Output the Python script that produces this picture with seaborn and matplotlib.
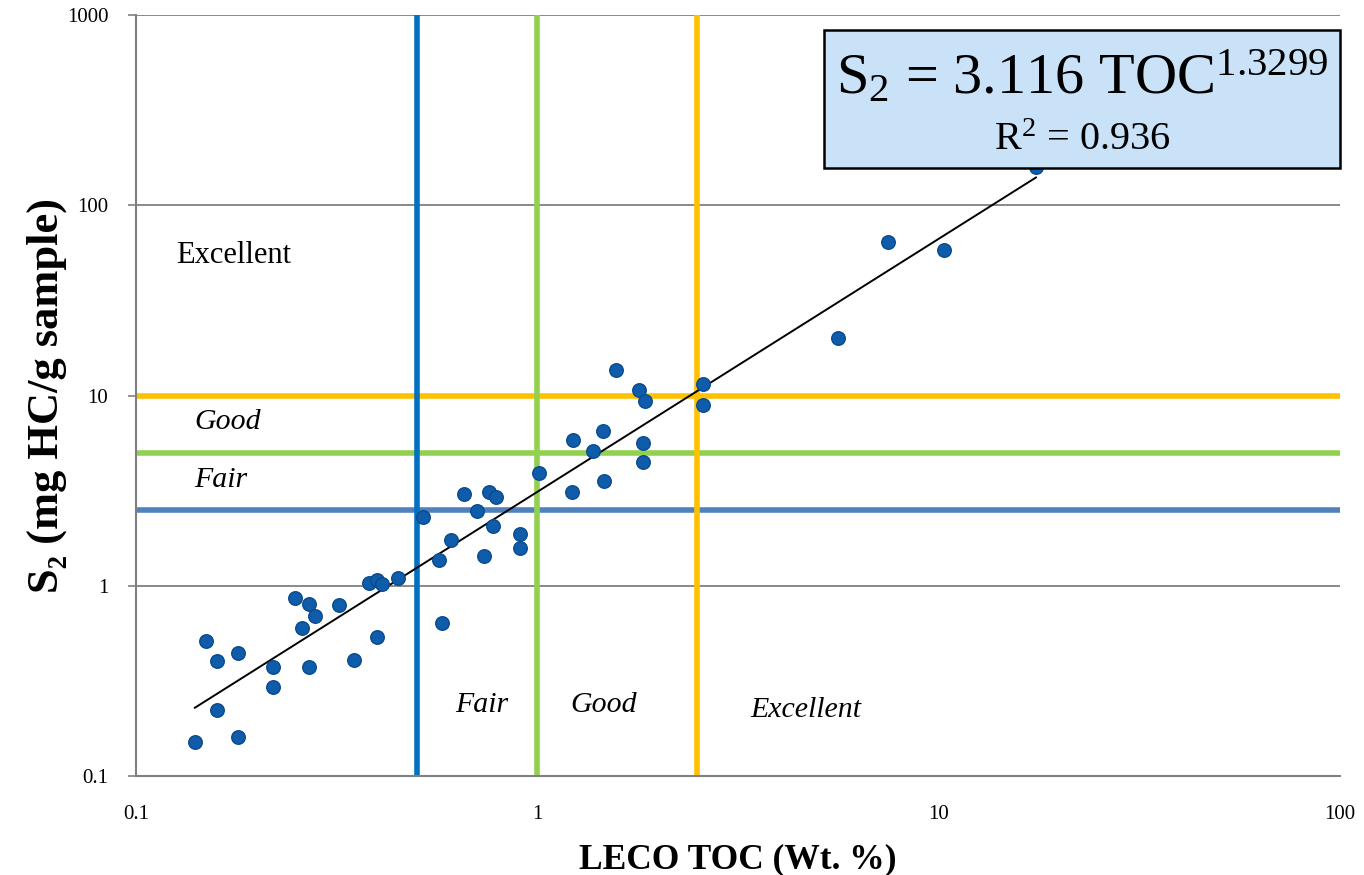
import numpy as np
import pandas as pd
import matplotlib
matplotlib.use("Agg")
import matplotlib.pyplot as plt
import seaborn as sns

# Sample measurements: LECO TOC (wt. %) and Rock-Eval S2 (mg HC/g sample)
toc = [0.140, 0.149, 0.159, 0.159, 0.180, 0.180, 0.219, 0.219, 0.249, 0.259,
       0.270, 0.270, 0.279, 0.321, 0.349, 0.381, 0.399, 0.399, 0.410, 0.450,
       0.519, 0.569, 0.579, 0.610, 0.657, 0.708, 0.736, 0.758, 0.776, 0.789,
       0.906, 0.906, 1.01, 1.22, 1.23, 1.38, 1.46, 1.47, 1.57, 1.79,
       1.83, 1.83, 1.85, 2.59, 2.59, 5.62, 7.48, 10.3, 17.5]
s2 = [0.151, 0.513, 0.402, 0.222, 0.443, 0.160, 0.374, 0.294, 0.863, 0.600,
      0.802, 0.374, 0.694, 0.792, 0.407, 1.03, 1.07, 0.538, 1.02, 1.10,
      2.30, 1.37, 0.637, 1.74, 3.04, 2.47, 1.43, 3.11, 2.06, 2.93,
      1.87, 1.58, 3.91, 3.11, 5.83, 5.11, 6.51, 3.55, 13.6, 10.7,
      5.63, 4.47, 9.35, 11.5, 8.91, 20.0, 64.1, 58.2, 159.0]

# Power-law fit S2 = a * TOC^b
fit_a = 3.116
fit_b = 1.3299
fit_r2 = 0.936

# Source-rock quality limits
toc_limits = [0.5, 1.0, 2.5]
s2_limits = [2.5, 5.0, 10.0]
toc_limit_colors = ["#0070C0", "#92D050", "#FFC000"]
s2_limit_colors = ["#4F81BD", "#92D050", "#FFC000"]

tick_values = [0.1, 1, 10, 100, 1000]
tick_labels = ["0.1", "1", "10", "100", "1000"]

df = pd.DataFrame({"TOC": toc, "S2": s2})
fit_x = np.array([min(toc), max(toc)])
fit_df = pd.DataFrame({"TOC": fit_x, "S2": fit_a * fit_x ** fit_b})

sns.set_theme(style="white")
serif = ["Liberation Serif", "DejaVu Serif"]
plt.rcParams["font.family"] = serif
plt.rcParams["text.color"] = "black"
plt.rcParams["axes.labelcolor"] = "black"
plt.rcParams["mathtext.fontset"] = "custom"
plt.rcParams["mathtext.rm"] = "Liberation Serif"
plt.rcParams["mathtext.it"] = "Liberation Serif:italic"
plt.rcParams["mathtext.bf"] = "Liberation Serif:bold"

fig = plt.figure(figsize=(13.64, 8.75), dpi=100)
ax = fig.add_axes([136 / 1364, 1 - 776 / 875, (1340 - 136) / 1364, (776 - 15) / 875])
ax.set_xscale("log")
ax.set_yscale("log")
ax.set_xlim(0.1, 100)
ax.set_ylim(0.1, 1000)

# Horizontal decade gridlines
for v in tick_values:
    ax.axhline(v, color="#808080", lw=1.3, zorder=1)

for v, c in zip(s2_limits, s2_limit_colors):
    ax.axhline(v, color=c, lw=4, zorder=2)
for v, c in zip(toc_limits, toc_limit_colors):
    ax.axvline(v, color=c, lw=4, zorder=2)

sns.lineplot(data=fit_df, x="TOC", y="S2", ax=ax, color="black", lw=1.4, zorder=3)
sns.scatterplot(data=df, x="TOC", y="S2", ax=ax, s=95, color="#0F5DAA",
                edgecolor="#0A4A8C", linewidth=1.0, zorder=4)

ax.set_xticks(tick_values[:4])
ax.set_xticklabels(tick_labels[:4])
ax.set_yticks(tick_values)
ax.set_yticklabels(tick_labels)
ax.minorticks_off()
ax.tick_params(axis="x", length=0, pad=21, labelsize=15, labelcolor="black")
ax.tick_params(axis="y", length=6, width=1.2, color="#808080", pad=14, labelsize=15,
               left=True, labelcolor="black")

for side in ["top", "right"]:
    ax.spines[side].set_visible(False)
for side in ["left", "bottom"]:
    ax.spines[side].set_color("#808080")
    ax.spines[side].set_linewidth(1.5)

ax.set_xlabel("LECO TOC (Wt. %)", fontsize=25.5, fontweight="bold", labelpad=14)
ax.set_ylabel("S₂ (mg HC/g sample)", fontsize=32, fontweight="bold", labelpad=0)

# Zone annotations
ax.text(0.126, 54.7, "Excellent", fontsize=22, ha="left", va="center")
ax.text(0.140, 7.26, "Good", fontsize=21.5, style="italic", ha="left", va="center")
ax.text(0.140, 3.59, "Fair", fontsize=21.5, style="italic", ha="left", va="center")
ax.text(0.728, 0.236, "Fair", fontsize=21.5, style="italic", ha="center", va="center")
ax.text(1.46, 0.236, "Good", fontsize=21.5, style="italic", ha="center", va="center")
ax.text(4.67, 0.222, "Excellent", fontsize=21.5, style="italic", ha="center", va="center")

# Equation box
box_x0, box_x1 = 824 / 1364, 1340 / 1364
box_y0, box_y1 = 1 - 168 / 875, 1 - 30 / 875
box = plt.Rectangle((box_x0, box_y0), box_x1 - box_x0, box_y1 - box_y0,
                    transform=fig.transFigure, facecolor="#C9E2F8",
                    edgecolor="black", lw=1.8, zorder=10)
fig.patches.append(box)
fig.text((box_x0 + box_x1) / 2, 1 - 78 / 875,
         r"S$_2$ = %.3f TOC$^{%.4f}$" % (fit_a, fit_b),
         fontsize=42, ha="center", va="center", zorder=11)
fig.text(1082 / 1364, 1 - 141 / 875, r"R$^2$ = %.3f" % fit_r2,
         fontsize=29, ha="center", va="center", zorder=11)

fig.savefig("out.png", dpi=100, facecolor="white")
